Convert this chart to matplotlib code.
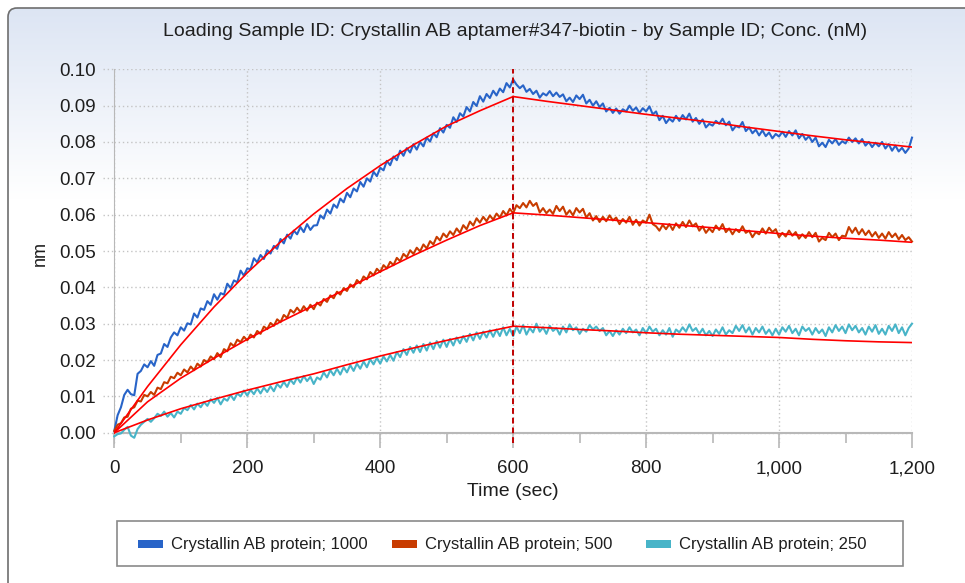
import numpy as np
import matplotlib.pyplot as plt
from matplotlib.patches import FancyBboxPatch, Rectangle
from matplotlib.transforms import blended_transform_factory

plt.rcParams['font.family'] = ['Liberation Sans', 'DejaVu Sans']

W, H = 965, 583

# raw traces, one value every 5 s, in units of 1e-4 nm
time = np.arange(0, 1201, 5)
conc_1000 = [
    5, 48, 70, 104, 118, 106, 103, 162, 170, 188,
    180, 197, 184, 214, 218, 244, 236, 262, 276, 268,
    290, 281, 301, 298, 328, 317, 342, 338, 362, 352,
    381, 366, 384, 380, 410, 398, 419, 414, 446, 432,
    452, 450, 480, 469, 489, 478, 502, 493, 514, 506,
    533, 521, 545, 534, 556, 546, 566, 552, 574, 558,
    570, 571, 598, 589, 614, 603, 628, 619, 644, 634,
    660, 648, 672, 664, 690, 677, 700, 691, 718, 706,
    729, 722, 748, 736, 760, 750, 776, 762, 783, 771,
    794, 779, 800, 788, 812, 801, 824, 813, 838, 826,
    847, 839, 868, 855, 879, 870, 896, 884, 910, 899,
    926, 911, 932, 921, 941, 928, 947, 937, 962, 950,
    972,
    958, 948, 956, 938, 946, 932, 941, 922, 934, 928,
    940, 926, 936, 924, 931, 912, 922, 910, 928, 918,
    930, 906, 916, 900, 912, 896, 906, 884, 894, 880,
    892, 878, 890, 884, 900, 886, 895, 880, 893, 884,
    898, 876, 884, 860, 872, 852, 864, 856, 872, 858,
    874, 862, 878, 856, 866, 850, 862, 840, 850, 845,
    858, 850, 864, 846, 856, 832, 844, 840, 855, 830,
    840, 824, 834, 818, 832, 816, 826, 810, 822, 815,
    828, 814, 830, 818, 832, 810, 822, 806, 816, 800,
    812, 788, 798, 786, 806, 796, 808, 792, 802, 796,
    812, 800, 810, 796, 808, 790, 800, 786, 798, 788,
    800, 782, 794, 776, 790, 774, 784, 770, 782, 812]
conc_500 = [
    5, 22, 26, 42, 44, 66, 70, 88, 86, 104,
    100, 112, 104, 124, 120, 139, 136, 154, 150, 165,
    158, 174, 166, 182, 172, 190, 182, 200, 194, 210,
    202, 219, 208, 230, 224, 246, 238, 256, 249, 264,
    254, 270, 262, 280, 272, 292, 285, 302, 294, 312,
    304, 324, 316, 338, 330, 344, 332, 348, 336, 352,
    340, 358, 350, 368, 360, 378, 370, 388, 380, 398,
    390, 408, 400, 420, 411, 430, 422, 442, 433, 451,
    442, 461, 452, 470, 461, 481, 472, 492, 483, 502,
    492, 509, 499, 518, 507, 527, 518, 539, 529, 548,
    538, 554, 544, 562, 550, 571, 560, 581, 570, 590,
    578, 594, 582, 598, 586, 603, 592, 610, 598, 616,
    604,
    626, 618, 632, 620, 638, 624, 632, 606, 618, 604,
    614, 602, 624, 610, 622, 600, 612, 598, 618, 606,
    616, 592, 604, 584, 596, 580, 594, 582, 598, 584,
    592, 574, 588, 578, 594, 572, 586, 570, 584, 578,
    600, 574, 568, 556, 572, 560, 574, 558, 576, 564,
    580, 566, 584, 568, 576, 556, 568, 550, 562, 552,
    570, 558, 574, 552, 562, 546, 560, 552, 568, 550,
    556, 538, 552, 546, 562, 548, 564, 552, 560, 538,
    550, 540, 556, 542, 552, 534, 546, 536, 552, 538,
    550, 526, 536, 530, 550, 538, 548, 530, 542, 540,
    566, 550, 564, 546, 560, 544, 556, 540, 552, 536,
    548, 534, 552, 538, 548, 532, 544, 530, 538, 526]
conc_250 = [
    -10, -4, -2, 8, 16, -8, -14, 10, 22, 30,
    38, 30, 40, 52, 46, 58, 44, 54, 42, 58,
    52, 68, 62, 76, 64, 80, 70, 84, 74, 92,
    82, 96, 78, 94, 88, 104, 90, 108, 100, 116,
    102, 118, 106, 122, 108, 124, 112, 128, 114, 134,
    124, 140, 126, 146, 134, 152, 138, 156, 142, 154,
    134, 152, 146, 166, 152, 172, 158, 176, 160, 180,
    166, 186, 170, 190, 176, 196, 180, 202, 188, 206,
    190, 210, 196, 214, 198, 222, 208, 230, 214, 236,
    220, 240, 222, 244, 226, 248, 230, 252, 234, 256,
    236, 258, 240, 262, 246, 266, 250, 272, 254, 276,
    258, 278, 262, 282, 264, 284, 266, 290, 268, 286,
    266,
    292, 274, 296, 270, 288, 276, 300, 278, 290, 272,
    294, 280, 288, 270, 292, 276, 298, 282, 290, 272,
    286, 278, 296, 284, 292, 280, 288, 268, 280, 266,
    282, 270, 286, 274, 290, 276, 284, 268, 288, 274,
    292, 278, 286, 268, 282, 270, 288, 264, 284, 276,
    290, 278, 298, 280, 288, 272, 286, 268, 280, 266,
    284, 272, 290, 270, 282, 274, 294, 280, 296, 276,
    290, 270, 288, 276, 292, 272, 284, 268, 286, 270,
    290, 278, 294, 274, 286, 268, 292, 280, 288, 270,
    288, 274, 284, 266, 290, 276, 296, 280, 292, 274,
    298, 282, 294, 276, 288, 270, 292, 278, 296, 272,
    286, 270, 294, 280, 298, 274, 290, 268, 288, 300]

# fitted curves (1e-4 nm)
fit_t_assoc = [0, 50, 100, 150, 200, 250, 300, 350, 400, 450, 500, 550, 600]
fit_t_dissoc = [600, 650, 700, 750, 800, 850, 900, 950, 1000, 1050, 1100, 1150, 1200]
fit_1000_assoc = [0, 127, 242, 346, 440, 525, 602, 672, 735, 792, 844, 886, 925]
fit_1000_dissoc = [925, 912, 900, 888, 876, 865, 854, 841, 829, 817, 806, 796, 786]
fit_500_assoc = [0, 85, 150, 205, 257, 305, 350, 397, 443, 488, 530, 570, 605]
fit_500_dissoc = [605, 599, 592, 585, 578, 571, 564, 556, 548, 541, 535, 530, 524]
fit_250_assoc = [0, 35, 66, 92, 117, 140, 162, 187, 211, 233, 254, 274, 293]
fit_250_dissoc = [293, 289, 284, 280, 275, 271, 268, 265, 262, 257, 253, 250, 248]

labels = ['Crystallin AB protein; 1000', 'Crystallin AB protein; 500',
          'Crystallin AB protein; 250']
colors = ['#2864c8', '#c83c00', '#48b4c8']
title = 'Loading Sample ID: Crystallin AB aptamer#347-biotin - by Sample ID; Conc. (nM)'

fig = plt.figure(figsize=(W / 100, H / 100), dpi=100)
fig.patch.set_facecolor('white')

# background panel with gradient and rounded frame
bg = fig.add_axes([0, 0, 1, 1], zorder=-5)
rows = np.linspace(0, H, 400)
frac = np.clip((rows - 8) / 190, 0, 1)
top = np.array([0.865, 0.898, 0.955])
img = top[None, :] * (1 - frac[:, None]) + frac[:, None]
im = bg.imshow(img[:, None, :], extent=(0, W, H, 0), aspect='auto', interpolation='bilinear')
frame = FancyBboxPatch((8, 8), 990, 620, boxstyle='round,pad=0,rounding_size=9',
                       fc='none', ec='#6e6e6e', lw=1.2)
bg.add_patch(frame)
im.set_clip_path(frame)
bg.set_xlim(0, W)
bg.set_ylim(H, 0)
bg.axis('off')

# main plot
x0, x1, y_top, y_bot = 114.3, 912.0, 69.3, 442.7
ax = fig.add_axes([x0 / W, 1 - y_bot / H, (x1 - x0) / W, (y_bot - y_top) / H])
ax.patch.set_alpha(0)
ax.set_xlim(0, 1200)
ax.set_ylim(-0.1 * 10 / 363.4, 0.1)

for vals, c in zip([conc_1000, conc_500, conc_250], colors):
    ax.plot(time, np.array(vals) / 1e4, color=c, lw=1.5, zorder=3, clip_on=False)

for a, d in [(fit_1000_assoc, fit_1000_dissoc), (fit_500_assoc, fit_500_dissoc),
             (fit_250_assoc, fit_250_dissoc)]:
    ax.plot(fit_t_assoc, np.array(a) / 1e4, color='#ff0000', lw=1.2, zorder=4)
    ax.plot(fit_t_dissoc, np.array(d) / 1e4, color='#ff0000', lw=1.2, zorder=4)

ax.axvline(600, color='#c00000', lw=1.4, ls=(0, (3, 2)), zorder=5)

ax.set_xticks(range(0, 1201, 200))
ax.set_xticks(range(100, 1201, 200), minor=True)
ax.set_xticklabels(['{:,}'.format(v) for v in range(0, 1201, 200)])
yt = [i / 100 for i in range(11)]
ax.set_yticks(yt)
ax.set_yticklabels(['%.2f' % v for v in yt])
ax.grid(True, which='major', color='#c4c4c4', ls=(0, (1, 2)), lw=1)

for s in ['top', 'right']:
    ax.spines[s].set_visible(False)
ax.spines['left'].set_color('#b8b8b8')
ax.spines['bottom'].set_color('#b8b8b8')
ax.spines['bottom'].set_linewidth(1.5)
ax.spines['bottom'].set_position(('data', 0))

ax.tick_params(axis='x', which='major', length=11, color='#b8b8b8', width=1.2,
               labelsize=13.5, pad=9, labelcolor='#1e1e1e')
ax.tick_params(axis='x', which='minor', length=7, color='#b8b8b8', width=1.2)
ax.tick_params(axis='y', length=0, labelsize=13.5, pad=13, labelcolor='#1e1e1e')

# dotted tick stubs left of the axis
tr = blended_transform_factory(ax.transAxes, ax.transData)
for v in yt:
    ax.plot([-0.014, 0], [v, v], transform=tr, color='#c4c4c4', lw=1,
            ls=(0, (1, 2)), clip_on=False)

fig.text(515 / W, 1 - 32 / H, title, ha='center', va='center', fontsize=14, color='#202020')
fig.text(40 / W, 1 - 253 / H, 'nm', rotation=90, ha='center', va='center',
         fontsize=13, color='#1e1e1e')
fig.text(513 / W, 1 - 492 / H, 'Time (sec)', ha='center', va='center',
         fontsize=14, color='#1e1e1e')

# legend box
fig.add_artist(Rectangle((117 / W, 1 - 566 / H), 786 / W, 45 / H, transform=fig.transFigure,
                         fc='white', ec='#8a8a8a', lw=1.2))
for i, (lab, c) in enumerate(zip(labels, colors)):
    lx = 138 + 254 * i
    fig.add_artist(Rectangle((lx / W, 1 - 548 / H), 25 / W, 8 / H, transform=fig.transFigure,
                             fc=c, ec='none'))
    fig.text((lx + 33) / W, 1 - 544 / H, lab, ha='left', va='center', fontsize=12,
             color='#1e1e1e')

fig.savefig('out.png', dpi=100)
